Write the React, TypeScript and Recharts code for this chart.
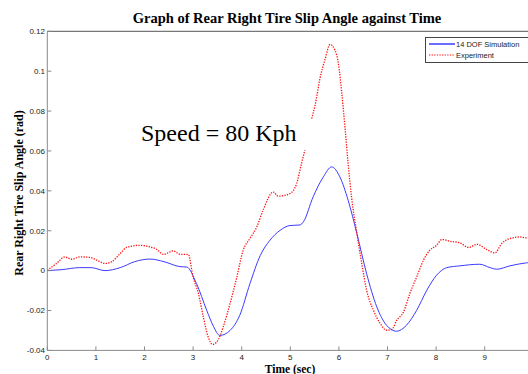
import React from 'react';
import { LineChart, Line, XAxis, YAxis } from 'recharts';

// Time axis (sec) and slip angle (rad) samples
const simTime = [0, 0.3, 0.67, 0.9, 1.19, 1.5, 1.8, 2.11, 2.4, 2.73, 2.87, 3.07, 3.28, 3.42, 3.55, 3.76, 3.96, 4.17, 4.38, 4.58, 4.79, 4.99, 5.2, 5.27, 5.47, 5.68, 5.85, 6.02, 6.19, 6.37, 6.57, 6.78, 6.98, 7.19, 7.39, 7.6, 7.81, 8.01, 8.22, 8.49, 8.9, 9.11, 9.25, 9.52, 9.86, 10];
const simSlip = [0, 0.0005, 0.0015, 0.0015, 0, 0.0015, 0.0045, 0.0058, 0.0045, 0.002, 0.0018, -0.0065, -0.0199, -0.028, -0.0325, -0.03, -0.0224, -0.0065, 0.0075, 0.0152, 0.0202, 0.0226, 0.0229, 0.0245, 0.037, 0.047, 0.052, 0.047, 0.0353, 0.0186, -0.0015, -0.0182, -0.0274, -0.0304, -0.0274, -0.0199, -0.0098, -0.0023, 0.0015, 0.0024, 0.0032, 0.0015, 0.0007, 0.0024, 0.0039, 0.0042];

const expTime = [0, 0.19, 0.36, 0.5, 0.67, 0.88, 1.02, 1.19, 1.32, 1.5, 1.63, 1.91, 2.11, 2.25, 2.39, 2.59, 2.73, 2.9, 3.0, 3.11, 3.21, 3.31, 3.4, 3.49, 3.62, 3.76, 3.9, 4.03, 4.17, 4.31, 4.44, 4.65, 4.75, 4.99, 5.13, 5.23, 5.3, 5.37, 5.44, 5.51, 5.61, 5.71, 5.82, 5.92, 5.99, 6.06, 6.13, 6.19, 6.26, 6.37, 6.47, 6.57, 6.71, 6.85, 6.98, 7.09, 7.19, 7.33, 7.46, 7.6, 7.74, 7.87, 8.01, 8.12, 8.29, 8.49, 8.67, 8.84, 9.04, 9.21, 9.35, 9.52, 9.73, 9.86, 10];
const expSlip: (number | null)[] = [0.0002, 0.0036, 0.0069, 0.0057, 0.0069, 0.0066, 0.0052, 0.0036, 0.0044, 0.0086, 0.0116, 0.0127, 0.0119, 0.0107, 0.0081, 0.0099, 0.0082, 0.0081, -0.0032, -0.0115, -0.0232, -0.0332, -0.037, -0.0357, -0.0282, -0.0165, -0.0032, 0.0102, 0.0161, 0.0219, 0.0303, 0.0394, 0.0373, 0.0386, 0.0436, 0.0537, 0.0604, null, 0.0762, 0.0829, 0.0963, 0.1055, 0.1134, 0.1105, 0.1038, 0.0888, 0.0704, 0.0537, 0.0369, 0.0186, 0.0036, -0.0098, -0.0199, -0.0265, -0.0299, -0.0295, -0.0249, -0.0207, -0.0115, -0.0032, 0.0052, 0.0102, 0.0127, 0.0156, 0.0147, 0.0139, 0.0116, 0.0132, 0.0106, 0.0089, 0.0136, 0.0161, 0.0169, 0.0164, 0.017];

const timeTicks = [0, 1, 2, 3, 4, 5, 6, 7, 8, 9];
const slipTicks = [-0.04, -0.02, 0, 0.02, 0.04, 0.06, 0.08, 0.1, 0.12];
const slipTickLabels = ['-0.04', '-0.02', '0', '0.02', '0.04', '0.06', '0.08', '0.1', '0.12'];

const seriesNames = ['14 DOF Simulation', 'Experiment'];
const titleText = 'Graph of Rear Right Tire Slip Angle against Time';
const xLabel = 'Time (sec)';
const yLabel = 'Rear Right Tire Slip Angle (rad)';
const noteText = 'Speed = 80 Kph';

const simData = simTime.map((t, i) => ({ t, v: simSlip[i] }));
const expData = expTime.map((t, i) => ({ t, v: expSlip[i] }));

const SIM_COLOR = '#3b3bff';
const EXP_COLOR = '#ff1010';
const AXIS_COLOR = '#8a8a8a';
const SANS = '"Liberation Sans", Arial, sans-serif';
const SERIF = '"Liberation Serif", "Times New Roman", serif';

const fmtSlip = (v: number) => {
  const i = slipTicks.findIndex((s) => Math.abs(s - v) < 1e-9);
  return i >= 0 ? slipTickLabels[i] : String(v);
};

export default function App() {
  return (
    <div
      style={{
        position: 'absolute',
        left: 0,
        top: 0,
        width: 528,
        height: 374,
        overflow: 'hidden',
        background: '#fff',
      }}
    >
      <LineChart
        width={560}
        height={374}
        margin={{ top: 30.3, right: 26.7, bottom: 3.6, left: 7.3 }}
      >
        <XAxis
          xAxisId="top"
          orientation="top"
          type="number"
          dataKey="t"
          domain={[0, 10]}
          ticks={timeTicks}
          height={1}
          tickSize={-4}
          tickFormatter={() => ''}
          axisLine={{ stroke: '#555' }}
          tickLine={{ stroke: '#555' }}
        />
        <XAxis
          type="number"
          dataKey="t"
          domain={[0, 10]}
          ticks={timeTicks}
          allowDataOverflow
          height={20}
          tickSize={-4}
          tickMargin={8}
          axisLine={{ stroke: AXIS_COLOR }}
          tickLine={{ stroke: AXIS_COLOR }}
          tick={{ fill: '#222', fontSize: 8, fontFamily: SANS }}
        />
        <YAxis
          type="number"
          domain={[-0.04, 0.12]}
          ticks={slipTicks}
          allowDataOverflow
          width={40}
          tickSize={-4}
          tickMargin={6.3}
          tickFormatter={fmtSlip}
          axisLine={{ stroke: AXIS_COLOR }}
          tickLine={{ stroke: AXIS_COLOR }}
          tick={{ fill: '#222', fontSize: 8, fontFamily: SANS }}
        />
        <Line
          data={simData}
          dataKey="v"
          type="monotone"
          stroke={SIM_COLOR}
          strokeWidth={1}
          dot={false}
          isAnimationActive={false}
        />
        <Line
          data={expData}
          dataKey="v"
          type="monotone"
          stroke={EXP_COLOR}
          strokeWidth={1.3}
          strokeDasharray="1.3 1.3"
          dot={false}
          connectNulls={false}
          isAnimationActive={false}
        />
      </LineChart>

      <svg
        width={528}
        height={374}
        style={{ position: 'absolute', left: 0, top: 0, pointerEvents: 'none' }}
      >
        <text x={287} y={22.5} textAnchor="middle" fontFamily={SERIF} fontWeight="bold" fontSize={14.5} fill="#000">
          {titleText}
        </text>
        <text
          x={0}
          y={0}
          transform="translate(23,193) rotate(-90)"
          textAnchor="middle"
          fontFamily={SERIF}
          fontWeight="bold"
          fontSize={12}
          fill="#000"
        >
          {yLabel}
        </text>
        <text x={290} y={373} textAnchor="middle" fontFamily={SERIF} fontWeight="bold" fontSize={11.5} fill="#000">
          {xLabel}
        </text>
        <text x={141} y={141} fontFamily={SERIF} fontSize={24} fill="#000">
          {noteText}
        </text>

        <g>
          <rect x={425.5} y={37.5} width={120} height={25} fill="#fff" stroke="#444" strokeWidth={1} />
          <line x1={429} y1={44} x2={455} y2={44} stroke={SIM_COLOR} strokeWidth={1.5} />
          <text x={456} y={46.8} fontFamily={SANS} fontSize={7.5} fill="#222">
            {seriesNames[0]}
          </text>
          <line x1={429} y1={55} x2={455} y2={55} stroke={EXP_COLOR} strokeWidth={1.2} strokeDasharray="1.3 1.3" />
          <text x={456} y={57.8} fontFamily={SANS} fontSize={7.5} fill="#222">
            {seriesNames[1]}
          </text>
        </g>
      </svg>
    </div>
  );
}
